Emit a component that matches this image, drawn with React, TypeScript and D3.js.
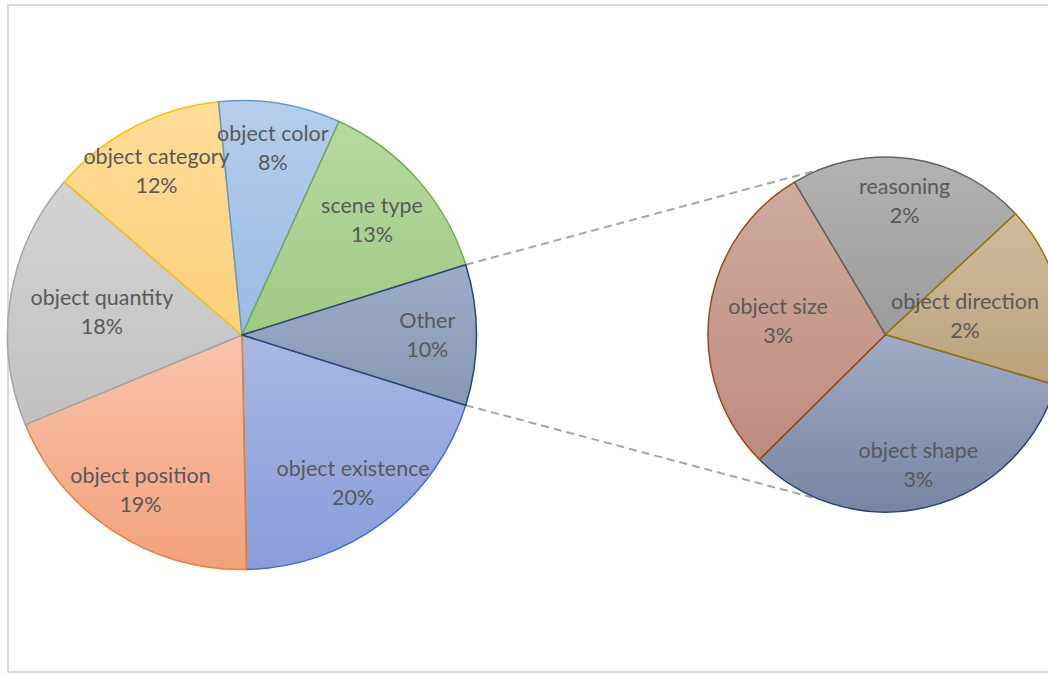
import React, { useEffect, useRef } from 'react';
import * as d3 from 'd3';

// Slices of the main pie (the rest goes into "Other")
const mainCategories = ['object existence', 'object position', 'object quantity', 'object category', 'object color', 'scene type'];
const mainValues = [19.9, 19.1, 17.6, 12.1, 8.4, 13.4];

// Slices broken out into the secondary pie
const otherCategories = ['object shape', 'object size', 'reasoning', 'object direction'];
const otherValues = [3.2, 2.8, 2.1, 1.6];

const otherLabel = 'Other';

// Gradient colours (top, bottom) and outline per slice
const sliceStyle: Record<string, { top: string; bottom: string; stroke: string }> = {
    'object existence': { top: '#A9B7E3', bottom: '#889CD9', stroke: '#4472C4' },
    'object position': { top: '#F8C3AB', bottom: '#F3A17D', stroke: '#ED7D31' },
    'object quantity': { top: '#D3D3D3', bottom: '#C1C1C1', stroke: '#A5A5A5' },
    'object category': { top: '#FFDC98', bottom: '#FCD07C', stroke: '#FFC000' },
    'object color': { top: '#B5CEEC', bottom: '#99BBE3', stroke: '#5B9BD5' },
    'scene type': { top: '#B6D9A0', bottom: '#9FCA84', stroke: '#70AD47' },
    'Other': { top: '#9DADC8', bottom: '#8797B5', stroke: '#264478' },
    'object shape': { top: '#A0AAC4', bottom: '#7884A4', stroke: '#264478' },
    'object size': { top: '#CFAA9F', bottom: '#BE8C7E', stroke: '#9E480E' },
    'reasoning': { top: '#B3B3B3', bottom: '#9B9B9B', stroke: '#636363' },
    'object direction': { top: '#CFBC9D', bottom: '#BCA27C', stroke: '#997300' },
};

// Label distance from centre, as share of radius (Excel pulls some inward to fit)
const labelRadius: Record<string, number> = {
    'object quantity': 0.605,
    'scene type': 0.74,
    'object color': 0.81,
    'object direction': 0.46,
    'object size': 0.61,
};

const App = () => {
    const svgRef = useRef<SVGSVGElement>(null);

    useEffect(() => {
        const width = 1048;
        const height = 674;
        const deg = Math.PI / 180;

        const svg = d3.select(svgRef.current);
        svg.selectAll('*').remove();
        svg.attr('width', width).attr('height', height);

        // Chart frame
        svg.append('rect')
            .attr('x', 8).attr('y', 5)
            .attr('width', width + 20).attr('height', 667)
            .attr('fill', '#fff')
            .attr('stroke', '#D9D9D9')
            .attr('stroke-width', 2);

        const otherTotal = d3.sum(otherValues);
        const total = d3.sum(mainValues) + otherTotal;

        const mainData = [
            ...mainCategories.map((c, i) => ({ name: c, value: mainValues[i] })),
            { name: otherLabel, value: otherTotal },
        ];
        const secondData = otherCategories.map((c, i) => ({ name: c, value: otherValues[i] }));

        // Gradients: light at top, darker at bottom of each slice
        const defs = svg.append('defs');
        Object.entries(sliceStyle).forEach(([name, s], i) => {
            const g = defs.append('linearGradient')
                .attr('id', `grad${i}`)
                .attr('x1', 0).attr('y1', 0).attr('x2', 0).attr('y2', 1);
            g.append('stop').attr('offset', '0%').attr('stop-color', s.top);
            g.append('stop').attr('offset', '100%').attr('stop-color', s.bottom);
        });
        const gradId = (name: string) => `url(#grad${Object.keys(sliceStyle).indexOf(name)})`;

        // Main pie: "Other" centred on the right (90deg)
        const c1 = { x: 242, y: 335, r: 234.5 };
        const otherAngle = (otherTotal / total) * 2 * Math.PI;
        const start1 = Math.PI / 2 + otherAngle / 2;
        const pie1 = d3.pie<any>().value(d => d.value).sort(null)
            .startAngle(start1).endAngle(start1 + 2 * Math.PI);
        const arcs1 = pie1(mainData);

        // Secondary pie
        const c2 = { x: 885.5, y: 334.5, r: 177.5 };
        const start2 = 106.5 * deg;
        const pie2 = d3.pie<any>().value(d => d.value).sort(null)
            .startAngle(start2).endAngle(start2 + 2 * Math.PI);
        const arcs2 = pie2(secondData);

        // Connector lines from "Other" edges to the secondary pie
        const otherArc = arcs1[arcs1.length - 1];
        const pt = (c: { x: number; y: number; r: number }, a: number) =>
            [c.x + c.r * Math.sin(a), c.y - c.r * Math.cos(a)];
        const links = [
            [pt(c1, otherArc.startAngle), pt(c2, 338.3 * deg)],
            [pt(c1, otherArc.endAngle), pt(c2, 201.7 * deg)],
        ];
        svg.selectAll('.connector')
            .data(links)
            .enter()
            .append('line')
            .attr('class', 'connector')
            .attr('x1', d => d[0][0]).attr('y1', d => d[0][1])
            .attr('x2', d => d[1][0]).attr('y2', d => d[1][1])
            .attr('stroke', '#A6A6A6')
            .attr('stroke-width', 2)
            .attr('stroke-dasharray', '8,5');

        const drawPie = (arcs: d3.PieArcDatum<any>[], c: { x: number; y: number; r: number }, defLabel: number) => {
            const g = svg.append('g').attr('transform', `translate(${c.x},${c.y})`);
            const arc = d3.arc<d3.PieArcDatum<any>>().innerRadius(0).outerRadius(c.r);

            g.selectAll('path')
                .data(arcs)
                .enter()
                .append('path')
                .attr('d', arc)
                .attr('fill', d => gradId(d.data.name))
                .attr('stroke', d => sliceStyle[d.data.name].stroke)
                .attr('stroke-width', 1.5)
                .attr('stroke-linejoin', 'round');

            const labels = g.selectAll('.lbl')
                .data(arcs)
                .enter()
                .append('text')
                .attr('class', 'lbl')
                .attr('transform', d => {
                    const a = (d.startAngle + d.endAngle) / 2;
                    const lr = (labelRadius[d.data.name] ?? defLabel) * c.r;
                    return `translate(${lr * Math.sin(a)},${-lr * Math.cos(a)})`;
                })
                .attr('text-anchor', 'middle')
                .attr('font-family', 'Lato, "Open Sans", sans-serif')
                .attr('font-size', '21.5px')
                .attr('fill', '#595959');
            labels.append('tspan')
                .attr('x', 0).attr('y', -7)
                .text(d => d.data.name);
            labels.append('tspan')
                .attr('x', 0).attr('y', 22)
                .text(d => `${Math.round((d.data.value / total) * 100)}%`);
        };

        drawPie(arcs1, c1, 0.79);
        drawPie(arcs2, c2, 0.76);
    }, []);

    return (
        <svg ref={svgRef} style={{ position: 'absolute', left: 0, top: 0, display: 'block' }}></svg>
    );
};

export default App;
